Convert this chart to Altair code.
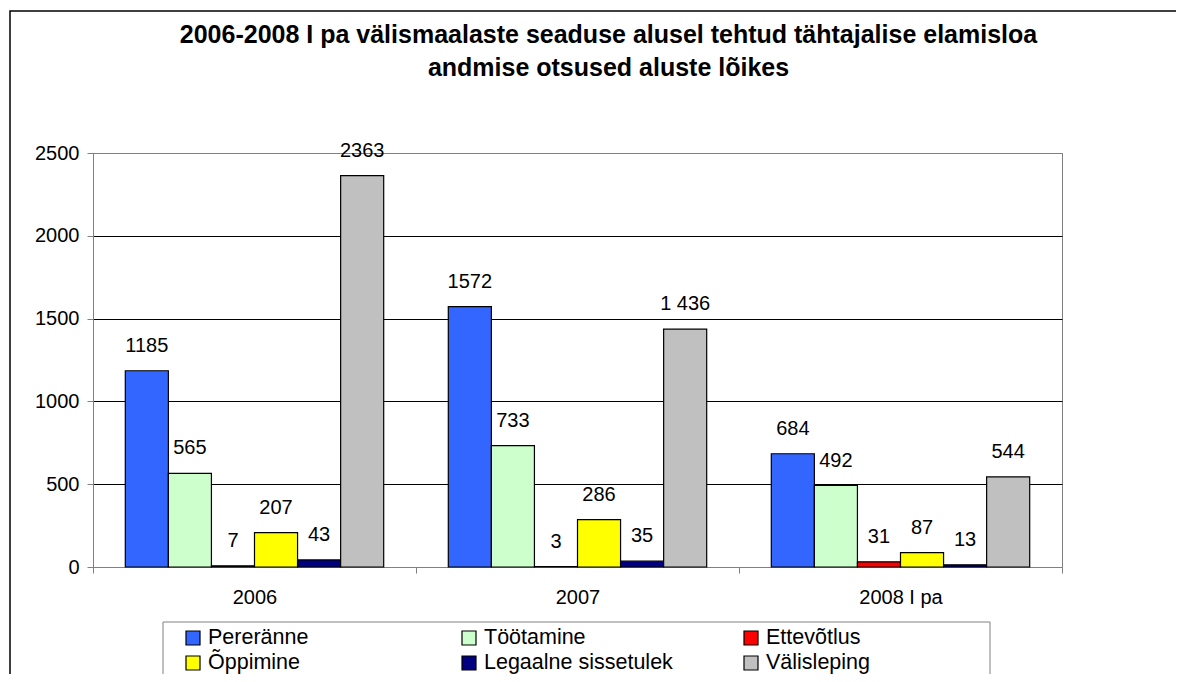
import altair as alt
import pandas as pd

groups = ["2006", "2007", "2008 I pa"]
series = ["Pereränne", "Töötamine", "Ettevõtlus", "Õppimine", "Legaalne sissetulek", "Välisleping"]
colors = ["#3366FF", "#CCFFCC", "#FF0000", "#FFFF00", "#000080", "#C0C0C0"]

values_2006 = [1185, 565, 7, 207, 43, 2363]
values_2007 = [1572, 733, 3, 286, 35, 1436]
values_2008 = [684, 492, 31, 87, 13, 544]

labels_2006 = ["1185", "565", "7", "207", "43", "2363"]
labels_2007 = ["1572", "733", "3", "286", "35", "1 436"]
labels_2008 = ["684", "492", "31", "87", "13", "544"]

y_ticks = [0, 500, 1000, 1500, 2000, 2500]

legend_col = [0, 1, 2, 0, 1, 2]
legend_row = [0, 0, 0, 1, 1, 1]

title_lines = [
    "2006-2008 I pa välismaalaste seaduse alusel tehtud tähtajalise elamisloa",
    "andmise otsused aluste lõikes",
]

FONT = "Liberation Sans, Arial, sans-serif"

rows = []
for g, vals, labs in zip(groups, [values_2006, values_2007, values_2008],
                         [labels_2006, labels_2007, labels_2008]):
    for s, v, l in zip(series, vals, labs):
        rows.append({"group": g, "series": s, "value": v, "label": l})
df = pd.DataFrame(rows)

df_leg = pd.DataFrame({"series": series, "col": legend_col, "row": legend_row})

color_scale = alt.Scale(domain=series, range=colors)

x_enc = alt.X(
    "group:N", sort=groups,
    scale=alt.Scale(paddingInner=0, paddingOuter=0),
    axis=alt.Axis(title=None, labelAngle=0, tickBand="extent", tickSize=6,
                  labelPadding=14, grid=False),
)
xoff_enc = alt.XOffset("series:N", sort=series,
                       scale=alt.Scale(paddingInner=0, paddingOuter=0.75))
y_enc = alt.Y(
    "value:Q",
    scale=alt.Scale(domain=[0, 2500], nice=False),
    axis=alt.Axis(
        values=y_ticks, title=None, tickSize=6, labelPadding=8, grid=True,
        format="d",
        gridColor={"condition": {"test": "datum.value === 0 || datum.value === 2500",
                                 "value": "#808080"}, "value": "black"},
        gridWidth=1,
    ),
)

bars = alt.Chart(df).mark_bar(stroke="black", strokeWidth=1.2).encode(
    x=x_enc, xOffset=xoff_enc, y=y_enc,
    color=alt.Color("series:N", scale=color_scale, legend=None),
)

labels = alt.Chart(df).mark_text(
    font=FONT, fontSize=20, baseline="middle", dy=-25, color="black"
).encode(x=x_enc, xOffset=xoff_enc, y=y_enc, text="label:N")

frame_data = alt.Data(values=[{"k": 1}])
outer_frame = alt.Chart(frame_data).mark_rect(
    filled=False, stroke="black", strokeWidth=1.5
).encode(x=alt.value(-83), x2=alt.value(1300), y=alt.value(-142), y2=alt.value(700))

legend_box = alt.Chart(frame_data).mark_rect(
    filled=False, stroke="#808080", strokeWidth=1
).encode(x=alt.value(70), x2=alt.value(897), y=alt.value(469), y2=alt.value(700))

leg_x = alt.X("col:Q", scale=alt.Scale(domain=[0, 1, 2], range=[100, 376, 658]), axis=None)
leg_y = alt.Y("row:Q", scale=alt.Scale(domain=[0, 1], range=[485, 510]), axis=None)

leg_squares = alt.Chart(df_leg).mark_square(
    size=196, stroke="black", strokeWidth=1.2, opacity=1
).encode(x=leg_x, y=leg_y, color=alt.Color("series:N", scale=color_scale, legend=None))

leg_text = alt.Chart(df_leg).mark_text(
    font=FONT, fontSize=21.5, align="left", baseline="middle", dx=15, color="black"
).encode(x=leg_x, y=leg_y, text="series:N")

chart = alt.layer(
    outer_frame, legend_box, alt.layer(bars, labels), leg_squares, leg_text
).resolve_scale(x="independent", y="independent").properties(
    width=969, height=414,
    title=alt.TitleParams(
        text=title_lines, font=FONT, fontSize=25, fontWeight="bold",
        anchor="middle", frame="group", offset=-71, dx=31, lineHeight=33,
        color="black",
    ),
    padding={"left": 85, "top": 145, "right": 114, "bottom": 107},
    autosize="none",
    background="white",
).configure_view(stroke="#808080", strokeWidth=1).configure_axis(
    labelFont=FONT, labelFontSize=20, labelColor="black",
    domainColor="#808080", tickColor="#808080", domainWidth=1, tickWidth=1,
)

chart.save("out.html", embed_options={"renderer": "svg", "actions": False})
